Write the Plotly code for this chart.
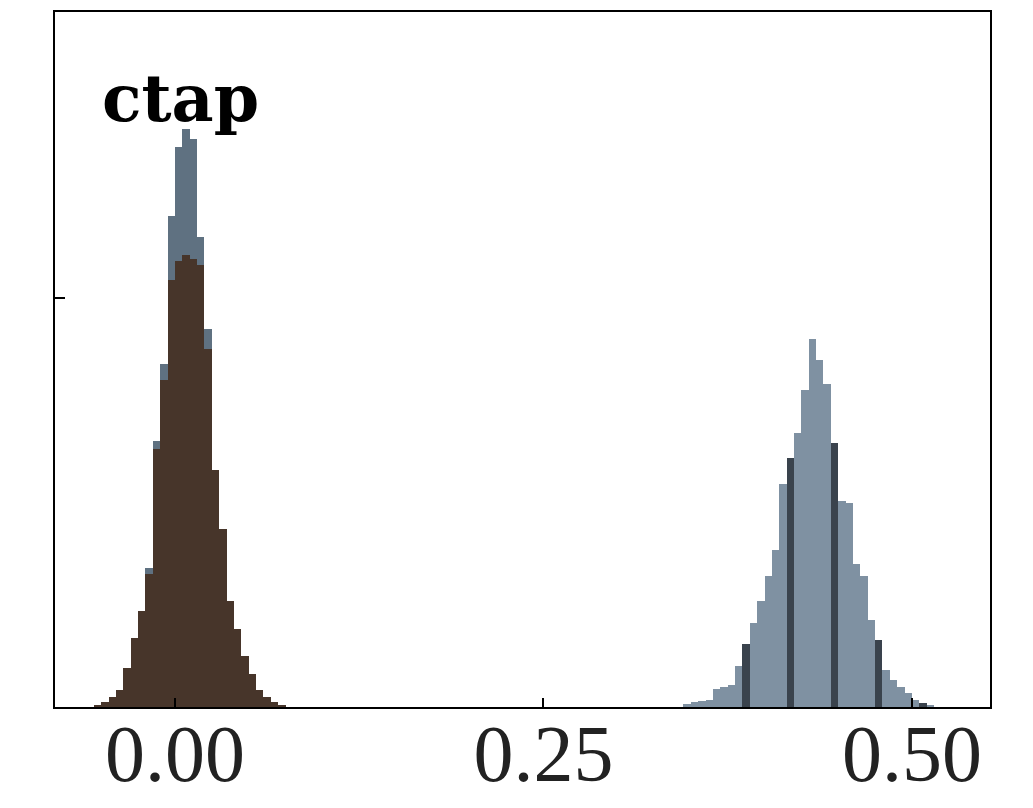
import numpy as np
import plotly.graph_objects as go

# ---- data ----
bin_width = 0.005
# brown histogram, bins centred from -0.0525 upward
brown_start = -0.0525
brown_heights = [0.05, 0.25, 0.5, 0.85, 1.9, 3.4, 4.7, 6.5, 12.6, 16.0, 20.9, 21.8, 22.1,
                 21.9, 21.6, 17.5, 11.6, 8.7, 5.2, 3.8, 2.5, 1.6, 0.85, 0.5, 0.25, 0.1]
# blue histogram, left mode
blue_left_start = -0.0525
blue_left_heights = [0.05, 0.2, 0.45, 0.8, 1.8, 3.2, 4.5, 6.8, 13.0, 16.8, 24.0, 27.4, 28.3,
                     27.8, 23.0, 18.5, 11.2, 8.4, 5.0, 3.6, 2.3, 1.5, 0.8, 0.45, 0.2, 0.1]
# blue histogram, right mode
blue_right_start = 0.3475
blue_right_heights = [0.15, 0.25, 0.3, 0.35, 0.9, 1.0, 1.1, 2.0, 3.1, 4.1, 5.2, 6.4, 7.7, 10.9,
                      12.2, 13.4, 15.5, 18.0, 17.0, 15.8, 12.9, 10.1, 10.0, 7.0, 6.4, 4.25,
                      3.3, 1.8, 1.3, 1.0, 0.7, 0.35, 0.2, 0.1]
x_tickvals = [0.0, 0.25, 0.5]
x_ticktext = ["0.00", "0.25", "0.50"]
y_tickvals = [20]
panel_label = "ctap"

# ---- bin centres ----
def centres(start, n):
    return [start + bin_width * i for i in range(n)]

bl_x = centres(blue_left_start, len(blue_left_heights))
br_x = centres(blue_right_start, len(blue_right_heights))
brown_x = centres(brown_start, len(brown_heights))

# the right mode shows darker stripes every sixth bin
right_colors = ["#3a434d" if (i >= 8 and (i - 8) % 6 == 0) else "#7f91a2"
                for i in range(len(blue_right_heights))]

fig = go.Figure()
fig.add_trace(go.Bar(x=bl_x, y=blue_left_heights, width=bin_width,
                     marker=dict(color="#5f7181", line=dict(width=0)), showlegend=False))
fig.add_trace(go.Bar(x=br_x, y=blue_right_heights, width=bin_width,
                     marker=dict(color=right_colors, line=dict(width=0)), showlegend=False))
fig.add_trace(go.Bar(x=brown_x, y=brown_heights, width=bin_width,
                     marker=dict(color="#47352a", line=dict(width=0)), showlegend=False))

fig.update_layout(
    width=1033, height=808,
    margin=dict(l=55, r=43, t=12, b=101),
    paper_bgcolor="white", plot_bgcolor="white",
    barmode="overlay", bargap=0,
    font=dict(family="Liberation Serif", color="black"),
    xaxis=dict(range=[-0.0814, 0.553], tickvals=x_tickvals, ticktext=x_ticktext,
               ticks="inside", ticklen=9, tickwidth=2, tickcolor="black",
               showline=True, linecolor="black", linewidth=2, mirror=True,
               showgrid=False, zeroline=False, automargin=False,
               ticklabelstandoff=-24,
               tickfont=dict(size=80, family="Liberation Serif", color="#222")),
    yaxis=dict(range=[0, 34], tickvals=y_tickvals, showticklabels=False,
               ticks="inside", ticklen=10, tickwidth=2, tickcolor="black",
               showline=True, linecolor="black", linewidth=2, mirror=True,
               showgrid=False, zeroline=False, automargin=False),
    annotations=[dict(text="<b>" + panel_label + "</b>", xref="paper", yref="paper",
                      x=(100 - 55) / 935, y=1 - (98 - 12) / 695, xanchor="left", yanchor="middle",
                      showarrow=False, font=dict(size=65, family="DejaVu Serif", color="black"))],
)

fig.write_html("out.html")
